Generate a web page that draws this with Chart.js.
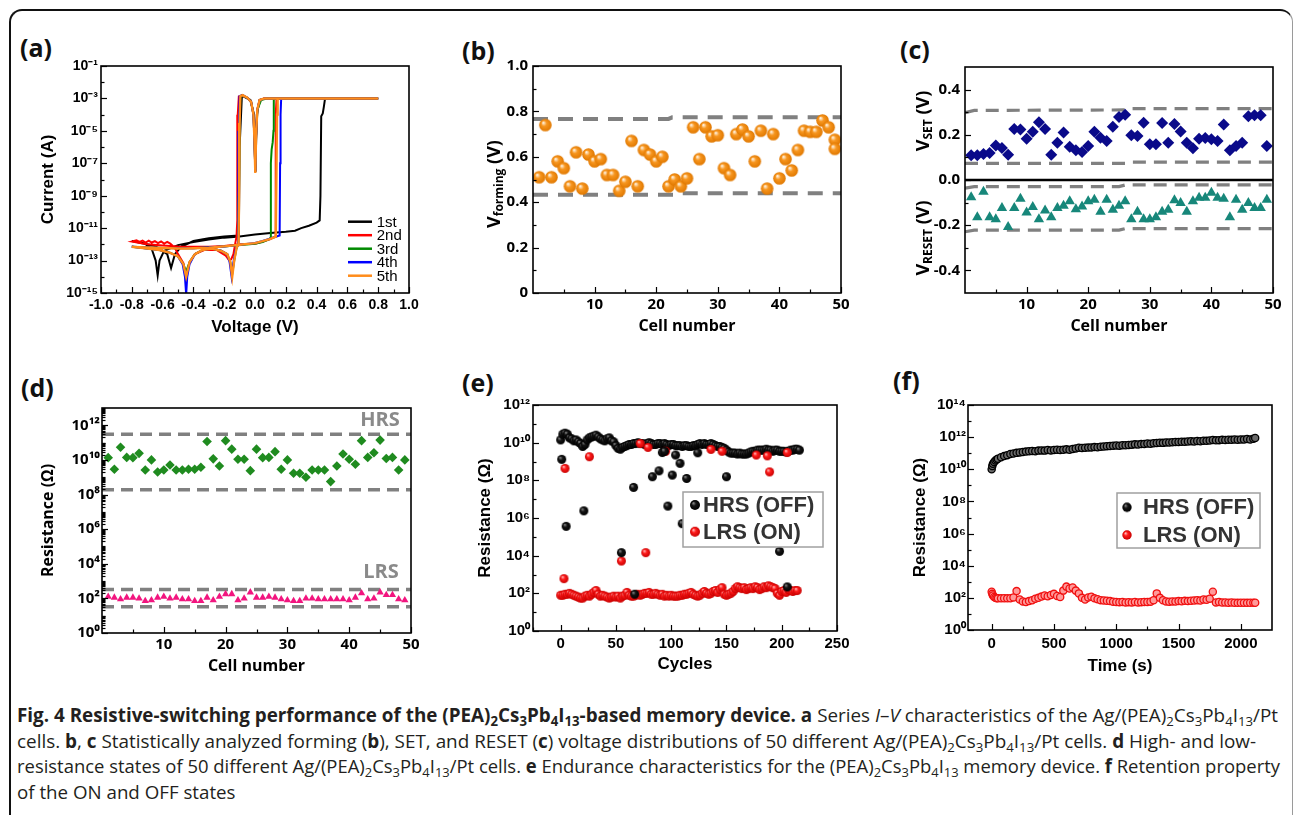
<!DOCTYPE html>
<html>
<head>
<meta charset="utf-8">
<title>Fig. 4 Resistive switching</title>
<script src="https://cdn.jsdelivr.net/npm/chart.js@4.4.1/dist/chart.umd.min.js"></script>
<style>
  html, body { margin: 0; padding: 0; background: #fff; }
  body { position: relative; width: 1293px; height: 815px; overflow: hidden; font-family: "Open Sans", sans-serif; }
  .frame { position: absolute; left: 9px; top: 9px; width: 1284px; height: 840px; box-sizing: border-box;
           border: 2px solid #111; border-right: 1px solid #9a9a9a; border-radius: 13px; }
  canvas { position: absolute; }
  .tag { position: absolute; font: bold 25px/25px "Open Sans", sans-serif; color: #111; }
  .cap { position: absolute; left: 17px; top: 703px; font-size: 19px; line-height: 25.5px; color: #231f20; }
  .cap div { white-space: nowrap; transform-origin: 0 0; }
  .cap sub { font-size: 70%; line-height: 0; vertical-align: -0.28em; }
</style>
</head>
<body>
<div class="frame"></div>

<div class="tag" style="left:20px;top:35px">(a)</div>
<div class="tag" style="left:462px;top:38px">(b)</div>
<div class="tag" style="left:900px;top:37px">(c)</div>
<div class="tag" style="left:21px;top:375px">(d)</div>
<div class="tag" style="left:462px;top:370px">(e)</div>
<div class="tag" style="left:893px;top:368px">(f)</div>

<canvas id="chartA" width="420" height="320" style="left:10px;top:30px"></canvas>
<canvas id="chartB" width="440" height="320" style="left:430px;top:30px"></canvas>
<canvas id="chartC" width="433" height="320" style="left:860px;top:30px"></canvas>
<canvas id="chartD" width="420" height="320" style="left:10px;top:370px"></canvas>
<canvas id="chartE" width="440" height="320" style="left:430px;top:370px"></canvas>
<canvas id="chartF" width="433" height="320" style="left:860px;top:370px"></canvas>

<div class="cap" id="cap">
  <div><span><b>Fig. 4 Resistive-switching performance of the (PEA)<sub>2</sub>Cs<sub>3</sub>Pb<sub>4</sub>I<sub>13</sub>-based memory device.</b> <b>a</b> Series <i>I</i>–<i>V</i> characteristics of the Ag/(PEA)<sub>2</sub>Cs<sub>3</sub>Pb<sub>4</sub>I<sub>13</sub>/Pt</span></div>
  <div><span>cells. <b>b</b>, <b>c</b> Statistically analyzed forming (<b>b</b>), SET, and RESET (<b>c</b>) voltage distributions of 50 different Ag/(PEA)<sub>2</sub>Cs<sub>3</sub>Pb<sub>4</sub>I<sub>13</sub>/Pt cells. <b>d</b> High- and low-</span></div>
  <div><span>resistance states of 50 different Ag/(PEA)<sub>2</sub>Cs<sub>3</sub>Pb<sub>4</sub>I<sub>13</sub>/Pt cells. <b>e</b> Endurance characteristics for the (PEA)<sub>2</sub>Cs<sub>3</sub>Pb<sub>4</sub>I<sub>13</sub> memory device. <b>f</b> Retention property</span></div>
  <div><span>of the ON and OFF states</span></div>
</div>

<script>
// ---------- (a) I–V sweeps, [voltage (V), current (A)] ----------
const ivLabels = ['1st', '2nd', '3rd', '4th', '5th'];
const ivColors = ['#000000', '#ff0000', '#008a00', '#0000ff', '#ff8c1a'];

const iv1st = [
  [0, 4e-12], [0.1, 5e-12], [0.2, 6e-12], [0.26, 7e-12], [0.3, 1e-11], [0.35, 1.4e-11], [0.4, 2.2e-11], [0.42, 3e-11],
  [0.425, 1e-9], [0.43, 8e-5], [0.44, 1.2e-4], [0.447, 3e-4], [0.455, 1e-3], [0.8, 1e-3],
  [0.06, 1e-3], [0.03, 8e-4], [0.012, 1e-4], [0.002, 3e-8], [-0.006, 1e-4], [-0.03, 8e-4], [-0.085, 1.5e-3], [-0.1, 1e-6], [-0.105, 3.5e-12],
  [-0.2, 3e-12], [-0.3, 2.4e-12], [-0.4, 1.6e-12], [-0.48, 7e-13], [-0.52, 2.5e-13], [-0.545, 3.5e-14], [-0.57, 2.5e-13], [-0.65, 8e-13], [-0.8, 1.6e-12],
  [-0.72, 1.2e-12], [-0.67, 5e-13], [-0.645, 1e-13], [-0.632, 1.2e-14], [-0.62, 1e-13], [-0.59, 4e-13], [-0.5, 9e-13], [-0.4, 1.4e-12],
  [-0.3, 2e-12], [-0.2, 2.6e-12], [-0.1, 3.1e-12], [0, 4e-12]
];
const iv2nd = [
  [0, 1.1e-12], [0.05, 1.5e-12], [0.1, 2.1e-12], [0.13, 3e-12], [0.133, 1e-8], [0.136, 1e-4], [0.14, 1e-3], [0.8, 1e-3],
  [0.06, 1e-3], [0.03, 8e-4], [0.015, 2e-4], [0.007, 5e-6], [0.002, 3e-8], [-0.003, 2e-6], [-0.01, 1e-4], [-0.025, 6e-4], [-0.05, 1.1e-3], [-0.08, 1.5e-3], [-0.105, 1.3e-3],
  [-0.112, 1e-4], [-0.114, 1e-8], [-0.116, 3e-11], [-0.12, 3e-12], [-0.128, 1.2e-12], [-0.14, 2.5e-13], [-0.155, 1.2e-13], [-0.17, 1.1e-13], [-0.19, 2e-13],
  [-0.25, 4.5e-13], [-0.33, 4.5e-13], [-0.39, 2.5e-13], [-0.425, 8e-14], [-0.447, 1.2e-14], [-0.465, 7e-14], [-0.5, 2.5e-13],
  [-0.52, 6e-13], [-0.55, 1.1e-12], [-0.57, 1.4e-12], [-0.59, 1.1e-12], [-0.61, 1.5e-12], [-0.63, 1.2e-12], [-0.65, 1.6e-12], [-0.67, 1.3e-12],
  [-0.69, 1.7e-12], [-0.71, 1.3e-12], [-0.73, 1.7e-12], [-0.75, 1.4e-12], [-0.77, 1.8e-12], [-0.8, 1.5e-12],
  [-0.7, 1e-12], [-0.6, 8.5e-13], [-0.5, 7.5e-13], [-0.4, 7e-13], [-0.3, 7e-13], [-0.2, 8e-13], [-0.1, 1e-12], [0, 1.1e-12]
];
const iv3rd = [
  [0, 1.1e-12], [0.05, 1.4e-12], [0.09, 2e-12], [0.1, 2.5e-12], [0.103, 1e-7], [0.108, 7e-7], [0.115, 2e-6], [0.12, 1e-5], [0.122, 1e-3], [0.8, 1e-3],
  [0.075, 1e-3], [0.04, 8e-4], [0.016, 2e-4], [0.007, 5e-6], [0.002, 3e-8], [-0.003, 2e-6], [-0.01, 1e-4], [-0.025, 6e-4], [-0.05, 1.1e-3], [-0.08, 1.5e-3], [-0.095, 1.3e-3],
  [-0.1, 3e-5], [-0.104, 1e-9], [-0.108, 1e-12], [-0.12, 6e-13], [-0.135, 1e-13], [-0.148, 1.5e-14], [-0.16, 8e-14], [-0.18, 2.5e-13], [-0.22, 4e-13],
  [-0.28, 5.5e-13], [-0.34, 4.5e-13], [-0.39, 2.5e-13], [-0.425, 8e-14], [-0.448, 2e-14], [-0.465, 6e-14], [-0.5, 1.8e-13], [-0.55, 3e-13],
  [-0.62, 4.5e-13], [-0.7, 5.5e-13], [-0.8, 7e-13],
  [-0.6, 6e-13], [-0.4, 5.7e-13], [-0.2, 7.5e-13], [0, 1.1e-12]
];
const iv4th = [
  [0, 1.2e-12], [0.05, 1.6e-12], [0.1, 2.3e-12], [0.16, 3.5e-12], [0.163, 1e-7], [0.166, 1e-4], [0.17, 1e-3], [0.8, 1e-3],
  [0.06, 1e-3], [0.03, 8e-4], [0.015, 2e-4], [0.007, 5e-6], [0.002, 3e-8], [-0.003, 2e-6], [-0.01, 1e-4], [-0.025, 6e-4], [-0.05, 1.1e-3], [-0.08, 1.6e-3], [-0.1, 1.4e-3],
  [-0.104, 1e-5], [-0.107, 1e-9], [-0.11, 1e-12], [-0.125, 5e-13], [-0.14, 8e-14], [-0.152, 1e-14], [-0.165, 8e-14], [-0.18, 2.5e-13], [-0.22, 4e-13],
  [-0.28, 5.5e-13], [-0.34, 4.5e-13], [-0.39, 2.5e-13], [-0.425, 6e-14], [-0.44, 1e-14], [-0.447, 8e-16], [-0.455, 1e-14], [-0.47, 6e-14],
  [-0.5, 1.8e-13], [-0.55, 3e-13], [-0.62, 4.5e-13], [-0.7, 5.5e-13], [-0.8, 7e-13],
  [-0.6, 6e-13], [-0.4, 5.7e-13], [-0.2, 7.5e-13], [0, 1.2e-12]
];
const iv5th = [
  [0, 1.2e-12], [0.05, 1.6e-12], [0.1, 2.2e-12], [0.135, 3e-12], [0.14, 1e-7], [0.143, 1e-4], [0.147, 1e-3], [0.8, 1e-3],
  [0.06, 1e-3], [0.03, 8e-4], [0.015, 2e-4], [0.007, 5e-6], [0.002, 2.5e-8], [-0.003, 2e-6], [-0.01, 1e-4], [-0.025, 6e-4], [-0.05, 1.1e-3],
  [-0.08, 1.6e-3], [-0.095, 1.4e-3], [-0.1, 3e-5], [-0.103, 2e-9], [-0.107, 1e-12],
  [-0.12, 6e-13], [-0.135, 1e-13], [-0.148, 1e-14], [-0.16, 8e-14], [-0.18, 2.5e-13], [-0.22, 4e-13], [-0.28, 5.5e-13], [-0.34, 4.5e-13],
  [-0.39, 2.5e-13], [-0.425, 8e-14], [-0.447, 1e-14], [-0.465, 6e-14], [-0.5, 1.8e-13], [-0.55, 3e-13], [-0.62, 4.5e-13], [-0.7, 5.5e-13], [-0.8, 7e-13],
  [-0.7, 6.5e-13], [-0.6, 6e-13], [-0.5, 5.5e-13], [-0.45, 5.5e-13], [-0.4, 5.7e-13], [-0.3, 6.2e-13], [-0.2, 7.5e-13], [-0.1, 9.5e-13], [0, 1.2e-12]
];
const ivSweeps = [iv1st, iv2nd, iv3rd, iv4th, iv5th];

// ---------- (b) forming voltage per cell ----------
const cellsB = [1, 2, 3, 4, 5, 6, 7, 8, 9, 10, 11, 12, 13, 14, 15, 16, 17, 18, 19, 20, 21, 22, 23, 24, 25,
                26, 27, 28, 29, 30, 31, 32, 33, 34, 35, 36, 37, 38, 39, 40, 41, 42, 43, 44, 45, 46, 47, 48, 49, 49];
const vForming = [0.51, 0.74, 0.51, 0.58, 0.55, 0.47, 0.62, 0.46, 0.61, 0.58,
                  0.59, 0.52, 0.52, 0.45, 0.49, 0.67, 0.47, 0.63, 0.61, 0.58,
                  0.60, 0.47, 0.50, 0.47, 0.505, 0.73, 0.59, 0.73, 0.69, 0.695,
                  0.55, 0.52, 0.70, 0.72, 0.69, 0.58, 0.715, 0.46, 0.70, 0.505,
                  0.59, 0.54, 0.63, 0.715, 0.71, 0.71, 0.76, 0.73, 0.675, 0.635];
const formUpper = [[0, 0.767], [22, 0.767], [22.6, 0.774], [50, 0.774]];
const formLower = [[0, 0.433], [23, 0.433], [23.6, 0.439], [50, 0.439]];

// ---------- (c) SET / RESET voltages ----------
const cellsC = Array.from({ length: 49 }, (_, i) => i + 1);
const vSet = [0.11, 0.11, 0.115, 0.12, 0.153, 0.142, 0.112, 0.226, 0.223, 0.183,
              0.214, 0.256, 0.226, 0.112, 0.165, 0.21, 0.147, 0.132, 0.124, 0.15,
              0.214, 0.187, 0.173, 0.236, 0.279, 0.289, 0.198, 0.195, 0.253, 0.158,
              0.158, 0.252, 0.165, 0.248, 0.215, 0.165, 0.14, 0.183, 0.186, 0.18,
              0.173, 0.246, 0.132, 0.15, 0.165, 0.282, 0.286, 0.286, 0.15];
const vReset = [-0.076, -0.165, -0.052, -0.165, -0.174, -0.124, -0.208, -0.124, -0.083, -0.144,
                -0.12, -0.174, -0.135, -0.165, -0.124, -0.114, -0.094, -0.129, -0.117, -0.094,
                -0.087, -0.14, -0.087, -0.132, -0.114, -0.094, -0.174, -0.14, -0.174, -0.174,
                -0.165, -0.14, -0.132, -0.09, -0.102, -0.14, -0.094, -0.079, -0.079, -0.056,
                -0.079, -0.083, -0.165, -0.087, -0.132, -0.102, -0.124, -0.124, -0.087];
const setUpper = [[0, 0.298], [1.5, 0.308], [26, 0.31], [27, 0.316], [50, 0.316]];
const setLower = [[0, 0.074], [26, 0.074], [27, 0.079], [50, 0.079]];
const resetUpper = [[0, -0.036], [1.5, -0.029], [25, -0.029], [26, -0.022], [50, -0.022]];
const resetLower = [[0, -0.229], [1.5, -0.222], [25, -0.222], [26, -0.215], [50, -0.215]];
const zeroLine = [[0, 0], [50, 0]];

// ---------- (d) HRS / LRS per cell (Ω) ----------
const cellsD = Array.from({ length: 49 }, (_, i) => i + 1);
const rHrsCell = [1.35e10, 2.9e9, 5.4e10, 1.4e10, 1.35e10, 2.4e10, 2.6e9, 1.0e10, 2.0e9, 2.6e9,
                  5.1e9, 2.6e9, 2.6e9, 2.9e9, 2.9e9, 3.8e9, 1.15e11, 1.15e10, 4.5e9, 1.3e11,
                  4.2e10, 1.1e10, 1.1e10, 2.4e9, 4.2e10, 1.35e10, 1.4e10, 3.0e10, 2.9e9, 1.0e10,
                  1.7e9, 1.7e9, 1.0e9, 2.6e9, 2.6e9, 2.6e9, 5.6e8, 4.5e9, 2.2e10, 1.1e10,
                  5.6e9, 1.3e11, 1.4e10, 2.6e10, 1.4e11, 1.2e10, 1.4e10, 2.6e9, 1.0e10];
const rLrsCell = [126, 112, 89, 112, 112, 100, 71, 79, 112, 126,
                  100, 112, 89, 89, 71, 71, 112, 79, 126, 178,
                  178, 79, 100, 224, 112, 112, 126, 112, 89, 79,
                  71, 71, 100, 100, 89, 89, 89, 89, 89, 79,
                  112, 200, 89, 100, 224, 158, 158, 89, 79];
const hrsLimits = [3e11, 1.9e8];
const lrsLimits = [330, 33];

// ---------- (e) endurance, every second cycle plus stray reads (Ω) ----------
const hrsBand = [
  1.4e10, 2.8e10, 3.2e10, 2.8e10, 1.8e10, 1.6e10, 1.25e10, 1.4e10, 1.1e10, 9e9,
  6.3e9, 8e9, 1.4e10, 1.8e10, 2e10, 2.2e10, 2.5e10, 2e10, 1.6e10, 1.4e10,
  1.25e10, 1.6e10, 1.8e10, 1.25e10, 1.1e10, 7e9, 5e9, 4.5e9, 5.6e9, 6.3e9,
  7e9, 8e9, 8e9, 9e9, 9e9, 1e10, 9e9, 9e9, 8e9, 9e9,
  1e10, 9e9, 8e9, 8e9, 9e9, 9e9, 8e9, 9e9, 8e9, 7e9,
  8e9, 8e9, 7e9, 7e9, 7e9, 6.3e9, 7e9, 7e9, 6.3e9, 6.3e9,
  7e9, 7e9, 8e9, 9e9, 8e9, 9e9, 8e9, 8e9, 9e9, 8e9,
  7e9, 6.3e9, 6.3e9, 5.6e9, 5e9, 4e9, 3.2e9, 2.8e9, 2.8e9, 2.8e9,
  2.5e9, 2.8e9, 2.5e9, 2.5e9, 2.5e9, 2.8e9, 3.2e9, 3.5e9, 3.5e9, 4e9,
  4e9, 4e9, 4e9, 4.5e9, 4e9, 4e9, 3.5e9, 4e9, 4e9, 3.5e9,
  3.5e9, 3.5e9, 3.2e9, 3.5e9, 4e9, 4e9, 4.5e9, 4.5e9, 4e9
];
const lrsBand = [
  79, 79, 89, 89, 100, 89, 79, 71, 63, 56,
  56, 71, 79, 71, 89, 112, 141, 89, 71, 79,
  71, 63, 56, 63, 71, 63, 71, 56, 71, 79,
  112, 79, 71, 71, 79, 89, 79, 89, 100, 100,
  112, 89, 89, 100, 89, 79, 89, 71, 79, 71,
  79, 71, 71, 71, 79, 79, 89, 89, 100, 112,
  89, 79, 71, 79, 100, 126, 100, 89, 100, 126,
  141, 112, 158, 200, 89, 79, 89, 100, 126, 178,
  224, 200, 178, 200, 158, 178, 200, 178, 224, 200,
  158, 178, 224, 200, 251, 224, 200, 178, 100, 79,
  126, 141, 112, 158, 141, 126, 141, 141
];
const hrsBandCycles = Array.from({ length: hrsBand.length }, (_, i) => 2 * i);
const lrsBandCycles = Array.from({ length: lrsBand.length }, (_, i) => 2 * i);
const hrsStrayCycles = [1, 5, 21, 55, 66, 67, 83, 89, 92, 94, 97, 101, 104, 108, 110, 114, 124, 150, 198, 205];
const hrsStray = [1.3e9, 3.6e5, 2.4e6, 1.45e4, 4.2e7, 90, 1.55e8, 3.2e8, 3e9, 3.5e9, 4.3e6, 1.9e8, 2.2e9, 8e8, 5e5, 1.26e8, 2.9e9, 1.55e8, 1.7e4, 220];
const lrsStrayCycles = [3, 4, 26, 55, 72, 77, 79, 95, 136, 146, 177, 187, 189, 205];
const lrsStray = [600, 4.3e8, 1.8e9, 5.2e3, 9e9, 1.45e4, 5.6e9, 3.5e9, 4.4e9, 3.5e9, 2.2e9, 2e9, 2.8e8, 3e9];

// ---------- (f) retention (s, Ω) ----------
const tRet = [0, 5, 10, 20, 30, 40, 50,
  75, 100, 125, 150, 175, 200, 225, 250, 275, 300,
  325, 350, 375, 400, 425, 450, 475, 500, 525, 550,
  575, 600, 625, 650, 675, 700, 725, 750, 775, 800,
  825, 850, 875, 900, 925, 950, 975, 1000, 1025, 1050,
  1075, 1100, 1125, 1150, 1175, 1200, 1225, 1250, 1275, 1300,
  1325, 1350, 1375, 1400, 1425, 1450, 1475, 1500, 1525, 1550,
  1575, 1600, 1625, 1650, 1675, 1700, 1725, 1750, 1775, 1800,
  1825, 1850, 1875, 1900, 1925, 1950, 1975, 2000, 2025, 2050,
  2075, 2100, 2115];
const hrsRet = [1.0e10, 1.6e10, 2.2e10, 2.8e10, 3.5e10, 4.0e10, 4.5e10,
  5.6e10, 6.6e10, 7.6e10, 8.9e10, 9.5e10, 1.05e11, 1.12e11, 1.2e11, 1.26e11, 1.32e11,
  1.38e11, 1.32e11, 1.45e11, 1.5e11, 1.45e11, 1.6e11, 1.5e11, 1.6e11, 1.66e11, 1.6e11,
  1.66e11, 1.74e11, 1.66e11, 1.82e11, 2.0e11, 2.2e11, 2.1e11, 2.2e11, 2.24e11, 2.3e11,
  2.4e11, 2.35e11, 2.5e11, 2.6e11, 2.75e11, 2.8e11, 2.95e11, 3.0e11, 2.95e11, 3.16e11,
  3.1e11, 3.3e11, 3.4e11, 3.55e11, 3.5e11, 3.7e11, 3.8e11, 4.0e11, 3.9e11, 4.2e11,
  4.3e11, 4.5e11, 4.4e11, 4.7e11, 4.6e11, 4.8e11, 5.0e11, 5.0e11, 5.2e11, 5.1e11,
  5.4e11, 5.5e11, 5.4e11, 5.8e11, 5.6e11, 6.0e11, 5.9e11, 6.2e11, 6.6e11, 6.3e11,
  6.5e11, 6.8e11, 6.6e11, 6.9e11, 6.8e11, 7.1e11, 6.9e11, 7.2e11, 7.1e11, 7.6e11,
  7.2e11, 7.9e11, 8.9e11];
const lrsRet = [240, 178, 141, 112, 100, 95, 93,
  93, 95, 93, 95, 107, 263, 79, 60, 55, 63,
  71, 89, 100, 120, 141, 126, 151, 178, 132, 112,
  282, 500, 380, 447, 282, 190, 100, 79, 107, 117,
  93, 83, 72, 69, 66, 63, 58, 56, 54, 55,
  52, 54, 52, 55, 52, 54, 56, 55, 58, 71,
  190, 100, 71, 60, 58, 60, 59, 63, 62, 65,
  63, 66, 69, 71, 68, 79, 76, 89, 240, 52,
  55, 51, 52, 50, 51, 50, 49, 50, 50, 49,
  50, 50, 50];

// ---------- shared helpers ----------
const SANS = '"Liberation Sans", Arial, sans-serif';
const OPEN = '"Open Sans", sans-serif';
const SUP = { '-': '⁻', '0': '⁰', '1': '¹', '2': '²', '3': '³', '4': '⁴', '5': '⁵', '6': '⁶', '7': '⁷', '8': '⁸', '9': '⁹' };
const pow10 = v => '10' + String(Math.round(Math.log10(v))).split('').map(c => SUP[c]).join('');
const oneDec = v => v.toFixed(1);
const plain = v => String(v);
const pts = (xs, ys) => xs.map((x, i) => ({ x, y: ys[i] }));
const pairs = list => list.map(([x, y]) => ({ x, y }));
const decades = (from, to) => { const out = []; for (let e = from; e <= to; e++) out.push(Math.pow(10, e)); return out; };

// shaded sphere used as a point marker
function ball(r, light, mid, dark) {
  const c = document.createElement('canvas');
  const s = Math.ceil(2 * r + 2);
  c.width = c.height = s;
  const g = c.getContext('2d');
  const m = s / 2;
  const grad = g.createRadialGradient(m - r * 0.35, m - r * 0.4, r * 0.05, m, m, r);
  grad.addColorStop(0, light);
  grad.addColorStop(0.4, mid);
  grad.addColorStop(1, dark);
  g.fillStyle = grad;
  g.beginPath();
  g.arc(m, m, r, 0, Math.PI * 2);
  g.fill();
  return c;
}

function axis(o) {
  const marks = o.major.map(v => ({ value: v, lab: true }))
    .concat(o.minor.map(v => ({ value: v, lab: false })))
    .sort((p, q) => p.value - q.value);
  return {
    type: o.log ? 'logarithmic' : 'linear',
    position: o.side,
    min: o.min,
    max: o.max,
    afterBuildTicks: s => { s.ticks = marks.map(m => ({ ...m })); },
    afterFit: s => { if (o.side === 'left') s.width = o.size; else s.height = o.size; },
    grid: { display: false, drawTicks: false },
    border: { display: false },
    ticks: {
      autoSkip: false, maxRotation: 0, minRotation: 0, padding: o.pad, color: '#000', font: o.font,
      callback: (v, i, t) => (t[i] && t[i].lab ? o.fmt(v) : '')
    },
    title: o.title
      ? { display: true, text: o.title, color: '#000', font: o.titleFont, padding: o.titlePad }
      : { display: false }
  };
}

function dashed(list, width, dash) {
  return {
    data: pairs(list), showLine: true, pointRadius: 0, borderColor: '#808080', backgroundColor: '#808080',
    borderWidth: width, borderDash: dash, borderCapStyle: 'butt', tension: 0, order: 10
  };
}

// box around the plot area with inward ticks
const framePlugin = {
  id: 'frame',
  afterDraw(chart) {
    const { ctx, chartArea: a } = chart;
    ctx.save();
    ctx.strokeStyle = '#000';
    ctx.lineWidth = 1.2;
    Object.values(chart.scales).forEach(s => {
      s.ticks.forEach(t => {
        const p = Math.round(s.getPixelForValue(t.value)) + 0.5;
        const len = t.lab ? 6 : 3.5;
        ctx.beginPath();
        if (s.isHorizontal()) { ctx.moveTo(p, a.bottom); ctx.lineTo(p, a.bottom - len); }
        else { ctx.moveTo(a.left, p); ctx.lineTo(a.left + len, p); }
        ctx.stroke();
      });
    });
    ctx.lineWidth = 1.6;
    ctx.strokeRect(a.left, a.top, a.right - a.left, a.bottom - a.top);
    ctx.restore();
  }
};
Chart.register(framePlugin);

// text with sub/superscript parts, optionally rotated
function richText(items) {
  return {
    id: 'richText',
    afterDraw(chart) {
      const ctx = chart.ctx;
      items.forEach(it => {
        ctx.save();
        ctx.translate(it.x, it.y);
        if (it.rot) ctx.rotate(it.rot);
        ctx.fillStyle = it.color || '#000';
        ctx.textBaseline = 'middle';
        let w = 0;
        it.parts.forEach(p => { ctx.font = p.font; w += ctx.measureText(p.text).width; });
        let x = -w / 2;
        it.parts.forEach(p => {
          ctx.font = p.font;
          ctx.fillText(p.text, x, p.dy || 0);
          x += ctx.measureText(p.text).width;
        });
        ctx.restore();
      });
    }
  };
}

// in-plot legend built from labelled datasets
function legendBox(cfg) {
  return {
    id: 'legendBox',
    afterDatasetsDraw(chart) {
      const ctx = chart.ctx;
      const items = chart.data.datasets.filter(d => d.label);
      ctx.save();
      if (cfg.box) {
        ctx.fillStyle = '#fff';
        ctx.fillRect(cfg.box[0], cfg.box[1], cfg.box[2], cfg.box[3]);
        ctx.strokeStyle = '#a0a0a0';
        ctx.lineWidth = 1.5;
        ctx.strokeRect(cfg.box[0], cfg.box[1], cfg.box[2], cfg.box[3]);
      }
      ctx.font = cfg.font;
      ctx.textBaseline = 'middle';
      items.forEach((d, i) => {
        const y = cfg.y + i * cfg.dy;
        if (cfg.line) {
          ctx.strokeStyle = d.borderColor;
          ctx.lineWidth = 2.5;
          ctx.beginPath();
          ctx.moveTo(cfg.x, y);
          ctx.lineTo(cfg.x + cfg.line, y);
          ctx.stroke();
        } else {
          const img = d.legendStyle;
          ctx.drawImage(img, cfg.x - img.width / 2, y - img.height / 2);
        }
        ctx.fillStyle = cfg.color;
        ctx.fillText(d.label, cfg.textX, y + 1);
      });
      ctx.restore();
    }
  };
}

function build(id, cfg) {
  return new Chart(document.getElementById(id), {
    type: 'scatter',
    data: { datasets: cfg.datasets },
    options: {
      responsive: false,
      animation: false,
      events: [],
      layout: { padding: { top: cfg.pad[0], right: cfg.pad[1], bottom: 0, left: 0 } },
      plugins: { legend: { display: false }, tooltip: { enabled: false } },
      scales: { x: cfg.x, y: cfg.y }
    },
    plugins: cfg.plugins || []
  });
}

const tickA = { family: SANS, size: 14, weight: 'bold' };
const titleA = { family: SANS, size: 17, weight: 'bold' };
const tickO = { family: OPEN, size: 15, weight: 'bold' };
const titleO = { family: OPEN, size: 16, weight: 'bold' };
const tickE = { family: SANS, size: 15, weight: 'bold' };

const cellMajor = [10, 20, 30, 40, 50];
const cellMinor = [5, 15, 25, 35, 45];

// ---------- (a) ----------
build('chartA', {
  pad: [36, 21],
  datasets: ivSweeps.map((sw, i) => ({
    label: ivLabels[i], data: pairs(sw), showLine: true, pointRadius: 0, tension: 0,
    borderColor: ivColors[i], backgroundColor: ivColors[i], borderWidth: i === 4 ? 2.4 : 2, order: 5 - i
  })),
  x: axis({ side: 'bottom', min: -1, max: 1, size: 57, pad: 4, font: tickA, fmt: oneDec,
            major: [-1, -0.8, -0.6, -0.4, -0.2, 0, 0.2, 0.4, 0.6, 0.8, 1],
            minor: [-0.9, -0.7, -0.5, -0.3, -0.1, 0.1, 0.3, 0.5, 0.7, 0.9],
            title: 'Voltage (V)', titleFont: titleA, titlePad: { top: 0, bottom: 12 } }),
  y: axis({ side: 'left', log: true, min: 1e-15, max: 1e-1, size: 91, pad: 3, font: tickA, fmt: pow10,
            major: [1e-15, 1e-13, 1e-11, 1e-9, 1e-7, 1e-5, 1e-3, 1e-1],
            minor: [1e-14, 1e-12, 1e-10, 1e-8, 1e-6, 1e-4, 1e-2],
            title: 'Current (A)', titleFont: titleA, titlePad: { top: 28, bottom: 0 } }),
  plugins: [legendBox({ line: 24, x: 338, y: 191.7, dy: 13.5, textX: 366.7, font: '15px ' + SANS, color: '#000' })]
});

// ---------- (b) ----------
const ballOrange = ball(6.3, '#fff6e8', '#f7961f', '#e07800');
build('chartB', {
  pad: [36, 29],
  datasets: [
    { data: pts(cellsB, vForming), pointStyle: ballOrange, pointRadius: 6.3, order: 0 },
    dashed(formUpper, 4, [15, 10]),
    dashed(formLower, 4, [15, 10])
  ],
  x: axis({ side: 'bottom', min: 0, max: 50, size: 57, pad: 3, font: tickO, fmt: plain,
            major: cellMajor, minor: cellMinor,
            title: 'Cell number', titleFont: titleO, titlePad: { top: 0, bottom: 14 } }),
  y: axis({ side: 'left', min: 0, max: 1, size: 103, pad: 5, font: tickO, fmt: v => (v === 0 ? '0' : v.toFixed(1)),
            major: [0, 0.2, 0.4, 0.6, 0.8, 1], minor: [0.1, 0.3, 0.5, 0.7, 0.9] }),
  plugins: [richText([{ x: 65, y: 154, rot: -Math.PI / 2, parts: [
    { text: 'V', font: 'bold 18px ' + OPEN },
    { text: 'forming', font: 'bold 12px ' + OPEN, dy: 5 },
    { text: ' (V)', font: 'bold 18px ' + OPEN }
  ] }])]
});

// ---------- (c) ----------
build('chartC', {
  pad: [37, 20],
  datasets: [
    { data: pts(cellsC, vSet), pointStyle: 'rectRot', pointRadius: 6, pointBorderWidth: 0,
      pointBackgroundColor: '#0a0a8a', pointBorderColor: '#0a0a8a', order: 0 },
    { data: pts(cellsC, vReset), pointStyle: 'triangle', pointRadius: 6, pointBorderWidth: 0,
      pointBackgroundColor: '#17877a', pointBorderColor: '#17877a', order: 1 },
    { data: pairs(zeroLine), showLine: true, pointRadius: 0, borderColor: '#000', borderWidth: 2.6, order: 5 },
    dashed(setUpper, 3.2, [13, 8]),
    dashed(setLower, 3.2, [13, 8]),
    dashed(resetUpper, 3.2, [13, 8]),
    dashed(resetLower, 3.2, [13, 8])
  ],
  x: axis({ side: 'bottom', min: 0, max: 50, size: 57, pad: 3, font: tickO, fmt: plain,
            major: cellMajor, minor: cellMinor,
            title: 'Cell number', titleFont: titleO, titlePad: { top: 0, bottom: 14 } }),
  y: axis({ side: 'left', min: -0.5, max: 0.5, size: 105, pad: 5, font: tickO, fmt: oneDec,
            major: [-0.4, -0.2, 0, 0.2, 0.4], minor: [-0.3, -0.1, 0.1, 0.3] }),
  plugins: [richText([
    { x: 64, y: 91, rot: -Math.PI / 2, parts: [
      { text: 'V', font: 'bold 18px ' + OPEN },
      { text: 'SET', font: 'bold 12px ' + OPEN, dy: 5 },
      { text: ' (V)', font: 'bold 18px ' + OPEN }
    ] },
    { x: 64, y: 208, rot: -Math.PI / 2, parts: [
      { text: 'V', font: 'bold 18px ' + OPEN },
      { text: 'RESET', font: 'bold 12px ' + OPEN, dy: 5 },
      { text: ' (V)', font: 'bold 18px ' + OPEN }
    ] }
  ])]
});

// ---------- (d) ----------
const logMinor = (from, to) => {
  const out = [];
  for (let e = from; e < to; e++) for (let k = 2; k <= 9; k++) out.push(k * Math.pow(10, e));
  return out;
};
build('chartD', {
  pad: [38, 19],
  datasets: [
    { data: pts(cellsD, rHrsCell), pointStyle: 'rectRot', pointRadius: 4.8, pointBorderWidth: 0,
      pointBackgroundColor: '#1f8b1f', pointBorderColor: '#1f8b1f', order: 0 },
    { data: pts(cellsD, rLrsCell), pointStyle: 'triangle', pointRadius: 4.2, pointBorderWidth: 0,
      pointBackgroundColor: '#f2157f', pointBorderColor: '#f2157f', order: 1 },
    ...hrsLimits.concat(lrsLimits).map(v => dashed([[0, v], [50, v]], 3.5, [12, 7]))
  ],
  x: axis({ side: 'bottom', min: 0, max: 50, size: 57, pad: 3, font: tickO, fmt: plain,
            major: cellMajor, minor: cellMinor,
            title: 'Cell number', titleFont: titleO, titlePad: { top: 0, bottom: 14 } }),
  y: axis({ side: 'left', log: true, min: 1, max: 1e13, size: 92, pad: 2, font: tickO, fmt: pow10,
            major: [1, 1e2, 1e4, 1e6, 1e8, 1e10, 1e12],
            minor: [10, 1e3, 1e5, 1e7, 1e9, 1e11, 1e13].concat(logMinor(0, 13)),
            title: 'Resistance (Ω)', titleFont: titleO, titlePad: { top: 29, bottom: 0 } }),
  plugins: [richText([
    { x: 370, y: 50, color: '#8a8a8a', parts: [{ text: 'HRS', font: 'bold 20px ' + OPEN }] },
    { x: 371, y: 202, color: '#8a8a8a', parts: [{ text: 'LRS', font: 'bold 20px ' + OPEN }] }
  ])]
});

// ---------- (e) ----------
const ballBlack = ball(4.5, '#8a8a8a', '#151515', '#000');
const ballRed = ball(4.5, '#ffc0c0', '#ff1c1c', '#c80000');
build('chartE', {
  pad: [35, 33],
  datasets: [
    { label: 'HRS (OFF)', data: pts(hrsBandCycles, hrsBand), pointStyle: ballBlack, pointRadius: 4.5, order: 2,
      legendStyle: ball(5, '#8a8a8a', '#151515', '#000') },
    { label: 'LRS (ON)', data: pts(lrsBandCycles, lrsBand), pointStyle: ballRed, pointRadius: 4.5, order: 3,
      legendStyle: ball(5, '#ffc0c0', '#ff1c1c', '#c80000') },
    { data: pts(hrsStrayCycles, hrsStray), pointStyle: ballBlack, pointRadius: 4.5, order: 0 },
    { data: pts(lrsStrayCycles, lrsStray), pointStyle: ballRed, pointRadius: 4.5, order: 1 }
  ],
  x: axis({ side: 'bottom', min: -25, max: 250, size: 59, pad: 3.5, font: tickE, fmt: plain,
            major: [0, 50, 100, 150, 200, 250], minor: [-25, 25, 75, 125, 175, 225],
            title: 'Cycles', titleFont: titleA, titlePad: { top: 0, bottom: 15 } }),
  y: axis({ side: 'left', log: true, min: 1, max: 1e12, size: 103, pad: 3, font: tickE, fmt: pow10,
            major: [1, 1e2, 1e4, 1e6, 1e8, 1e10, 1e12], minor: decades(1, 11).filter((_, i) => i % 2 === 0),
            title: 'Resistance (Ω)', titleFont: titleA, titlePad: { top: 45, bottom: 0 } }),
  plugins: [legendBox({ box: [253, 122, 140, 55], x: 265, y: 135, dy: 26.7, textX: 273,
                        font: 'bold 22px ' + SANS, color: '#333' })]
});

// ---------- (f) ----------
build('chartF', {
  pad: [35, 21],
  datasets: [
    { label: 'HRS (OFF)', data: pts(tRet, hrsRet), pointStyle: 'circle', pointRadius: 3.6, pointBorderWidth: 1.3,
      pointBackgroundColor: '#6a6a6a', pointBorderColor: '#000', legendStyle: ball(4.7, '#8a8a8a', '#151515', '#000') },
    { label: 'LRS (ON)', data: pts(tRet, lrsRet), pointStyle: 'circle', pointRadius: 3.6, pointBorderWidth: 1.3,
      pointBackgroundColor: '#ff9a9a', pointBorderColor: '#f01010', legendStyle: ball(4.7, '#ffc0c0', '#ff1c1c', '#c80000') }
  ],
  x: axis({ side: 'bottom', min: -190, max: 2250, size: 60, pad: 5, font: tickE, fmt: plain,
            major: [0, 500, 1000, 1500, 2000], minor: [250, 750, 1250, 1750],
            title: 'Time (s)', titleFont: titleA, titlePad: { top: 0, bottom: 13 } }),
  y: axis({ side: 'left', log: true, min: 1, max: 1e14, size: 108, pad: 2, font: tickE, fmt: pow10,
            major: [1, 1e2, 1e4, 1e6, 1e8, 1e10, 1e12, 1e14], minor: [10, 1e3, 1e5, 1e7, 1e9, 1e11, 1e13],
            title: 'Resistance (Ω)', titleFont: titleA, titlePad: { top: 50, bottom: 0 } }),
  plugins: [legendBox({ box: [257, 123, 143, 55], x: 267, y: 137.3, dy: 27.7, textX: 283,
                        font: 'bold 22px ' + SANS, color: '#333' })]
});

// ---------- caption: narrow each line to its set width ----------
const capTargets = [1261, 1239, 1263];
const capLines = [...document.querySelectorAll('#cap > div')];
const squeeze = capTargets.map((w, i) => w / capLines[i].firstElementChild.getBoundingClientRect().width);
const meanSqueeze = squeeze.reduce((a, b) => a + b, 0) / squeeze.length;
capLines.forEach((el, i) => { el.style.transform = `scaleX(${i < squeeze.length ? squeeze[i] : meanSqueeze})`; });
</script>
</body>
</html>
